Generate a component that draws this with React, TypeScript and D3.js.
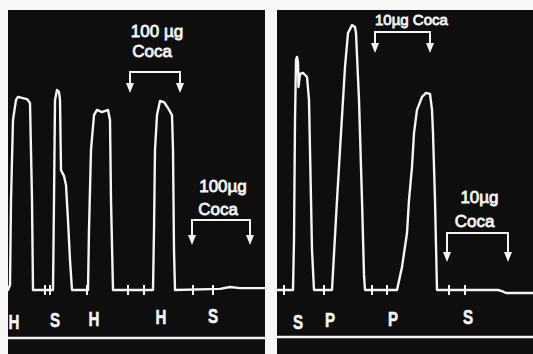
import React from 'react';
import * as d3 from 'd3';

const W = 533;
const H = 354;

// Kymograph trace, left record: [time, response]
const leftTrace: [number, number][] = [
  [0, 0], [2, 1.9], [3, 33.3], [5, 63], [8, 70.4], [10, 71.5], [19, 70.7], [22, 69.3], [24, 33.3], [25, 0],
  [45, 0], [46, 33.3], [47, 70.4], [49, 74.1], [51, 73.3], [52, 70.4], [53, 44.4], [56, 42.2], [58, 38.9],
  [60, 25.9], [62, 11.1], [64, 0],
  [80, 0], [81, 22.2], [83, 51.9], [86, 64.8], [89, 66.7], [94, 65.9], [100, 66.7], [102, 63], [103, 33.3], [105, 0],
  [145, 0], [146, 22.2], [147, 51.9], [149, 64.8], [152, 70], [156, 69.6], [160, 67.4], [164, 64.8], [165, 51.9],
  [166, 14.8], [167, 0],
  [212, 0.4], [222, 1.1], [232, 0.7], [257, 0.7],
];

// Kymograph trace, right record: [time, response]
const rightTrace: [number, number][] = [
  [0, 0], [16, 0], [17, 18.5], [18, 63], [19, 85.2], [20, 86.3], [21, 84.4], [21.5, 75.2], [23, 80], [26, 80.4],
  [30, 78.9], [32, 70.4], [33, 51.9], [35, 14.8], [37, 0],
  [55, 0], [60, 33.3], [64, 58.1], [68, 82.6], [71, 95.2], [75, 98.1], [78, 97.4], [79, 95.2], [82, 70.4],
  [85, 33.3], [87, 5.6], [88, 0],
  [120, 0], [125, 8.5], [130, 21.1], [132, 33.3], [135, 45.6], [137, 58.1], [140, 66.7], [145, 71.5],
  [149, 73], [153, 72.6], [155, 66.7], [156, 58.1], [158, 33.3], [160, 0],
  [221, 0], [225, -0.4], [229, -1.1], [256, -1.1],
];

// Signal marks on the baseline
const leftTicks = [37, 42, 79, 120, 136, 185, 205];
const rightTicks = [7, 47, 95, 110, 172, 188];

// Stimulus labels under the trace
const leftLabelTimes = [6, 47, 86, 153, 205];
const leftLabelTexts = ['H', 'S', 'H', 'H', 'S'];
const rightLabelTimes = [21, 53, 116, 191];
const rightLabelTexts = ['S', 'P', 'P', 'S'];

// Dose annotations (bracket from t0 to t1)
const leftDoseStart = [122, 184];
const leftDoseEnd = [172, 242];
const leftDoseBar = [80.7, 25.9];
const leftDoseTip = [73, 16.7];
const leftDoseLines = [['100 µg', 'Coca'], ['100µg', 'Coca']];
const leftDoseTextLevel = [[93.7, 86.3], [36.3, 27.8]];

const rightDoseStart = [98, 170];
const rightDoseEnd = [153, 231];
const rightDoseBar = [95.6, 21.1];
const rightDoseTip = [87.8, 10.4];
const rightDoseLines = [['10µg Coca'], ['10µg', 'Coca']];
const rightDoseTextLevel = [[98.1], [32.2, 23.3]];

const INK = '#f4f4f4';
const BG = '#0e0e0e';
const FONT = '"Liberation Sans", Arial, sans-serif';

type PanelProps = {
  x0: number;
  x1: number;
  top: number;
  trace: [number, number][];
  ticks: number[];
  labelTimes: number[];
  labelTexts: string[];
  doseStart: number[];
  doseEnd: number[];
  doseBar: number[];
  doseTip: number[];
  doseLines: string[][];
  doseTextLevel: number[][];
  axisY: number;
  inlineFirst?: boolean;
};

function Panel(p: PanelProps) {
  const x = d3.scaleLinear().domain([0, p.x1 - p.x0]).range([p.x0, p.x1]);
  const y = d3.scaleLinear().domain([0, 100]).range([290, 20]);
  const line = d3
    .line<[number, number]>()
    .x((d) => x(d[0]))
    .y((d) => y(d[1]));
  const base = y(0);
  return (
    <g>
      <rect x={p.x0} y={p.top} width={p.x1 - p.x0} height={H - p.top} fill={BG} />
      <path d={line(p.trace) || ''} fill="none" stroke={INK} strokeWidth={2.4} strokeLinejoin="round" strokeLinecap="round" />
      {p.ticks.map((t, i) => (
        <line key={'t' + i} x1={x(t)} x2={x(t)} y1={base - 5} y2={base + 5} stroke={INK} strokeWidth={2} />
      ))}
      {p.labelTimes.map((t, i) => (
        <text
          key={'l' + i}
          x={x(t)}
          y={base + 39 - i * 1.5}
          textAnchor="middle"
          fill={INK}
          stroke={INK}
          strokeWidth={0.6}
          fontFamily={FONT}
          fontWeight="bold"
          fontSize={21}
          transform={`translate(${x(t)},0) scale(0.72,1) translate(${-x(t)},0)`}
        >
          {p.labelTexts[i]}
        </text>
      ))}
      {p.doseStart.map((t0, i) => {
        const t1 = p.doseEnd[i];
        const yb = y(p.doseBar[i]);
        const yt = y(p.doseTip[i]);
        const mid = (x(t0) + x(t1)) / 2;
        const inline = p.inlineFirst && i === 0;
        const arrow = (xx: number) => (
          <g key={xx}>
            <line x1={xx} x2={xx} y1={yb} y2={yt - 8} stroke={INK} strokeWidth={2} />
            <path d={`M${xx - 4},${yt - 10} L${xx + 4},${yt - 10} L${xx},${yt} Z`} fill={INK} />
          </g>
        );
        return (
          <g key={'d' + i}>
            <line x1={x(t0) - 1} x2={x(t1) + 1} y1={yb} y2={yb} stroke={INK} strokeWidth={2} />
            {arrow(x(t0))}
            {arrow(x(t1))}
            {p.doseLines[i].map((s, j) => (
              <text
                key={j}
                x={inline ? x(t0) : mid + (j === 0 ? 2 : -3)}
                y={y(p.doseTextLevel[i][j])}
                textAnchor={inline ? 'start' : 'middle'}
                fill={INK}
                fontFamily={FONT}
                fontSize={inline ? 15 : 17}
                stroke={INK}
                strokeWidth={0.8}
              >
                {s}
              </text>
            ))}
          </g>
        );
      })}
      <line x1={p.x0} x2={p.x1} y1={p.axisY} y2={p.axisY} stroke={INK} strokeWidth={2.5} />
    </g>
  );
}

export default function App() {
  return (
    <svg width={W} height={H} style={{ position: 'absolute', left: 0, top: 0 }}>
      <rect x={0} y={0} width={W} height={H} fill="#f7f7f5" />
      <Panel
        x0={8}
        x1={265}
        top={10}
        trace={leftTrace}
        ticks={leftTicks}
        labelTimes={leftLabelTimes}
        labelTexts={leftLabelTexts}
        doseStart={leftDoseStart}
        doseEnd={leftDoseEnd}
        doseBar={leftDoseBar}
        doseTip={leftDoseTip}
        doseLines={leftDoseLines}
        doseTextLevel={leftDoseTextLevel}
        axisY={338}
      />
      <Panel
        x0={277}
        x1={533}
        top={10}
        trace={rightTrace}
        ticks={rightTicks}
        labelTimes={rightLabelTimes}
        labelTexts={rightLabelTexts}
        doseStart={rightDoseStart}
        doseEnd={rightDoseEnd}
        doseBar={rightDoseBar}
        doseTip={rightDoseTip}
        doseLines={rightDoseLines}
        doseTextLevel={rightDoseTextLevel}
        axisY={337}
        inlineFirst
      />
    </svg>
  );
}
